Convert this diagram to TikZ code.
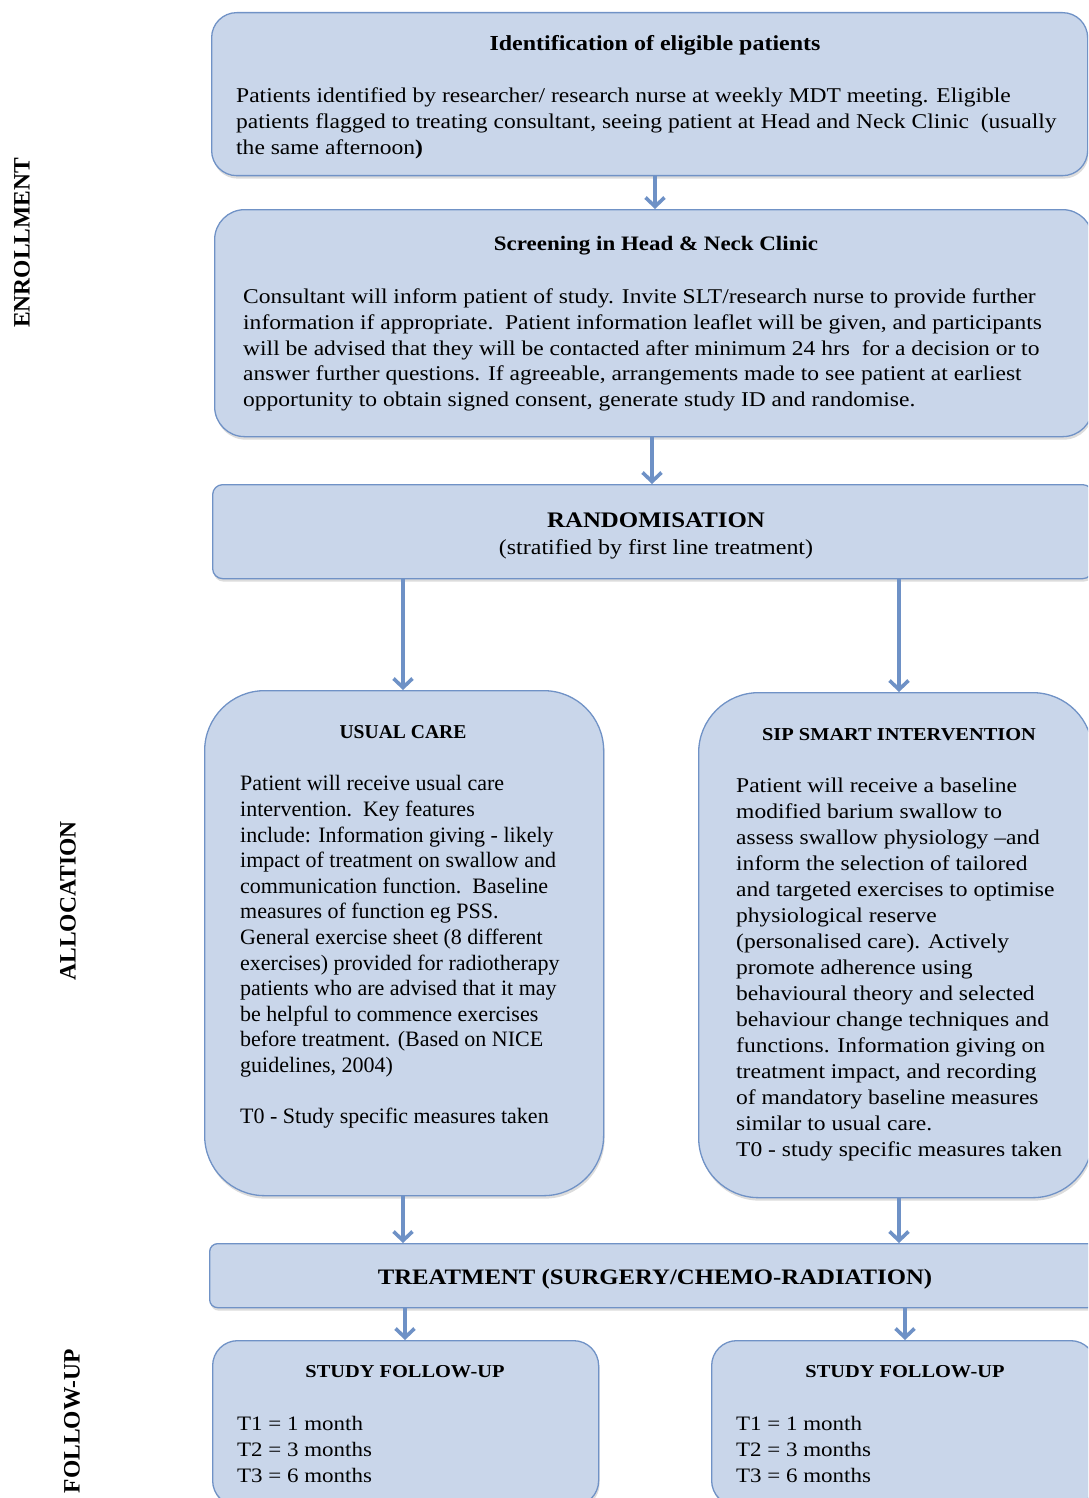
\documentclass[tikz,border=0pt]{standalone}
\usepackage{fontspec}
\setmainfont{Liberation Serif}
\newfontfamily\cam[FakeStretch=1.12]{Liberation Serif}
\usetikzlibrary{arrows.meta,shadows}
\definecolor{boxfill}{RGB}{201,214,234}
\definecolor{boxline}{RGB}{112,146,198}
\definecolor{arrowc}{RGB}{110,145,198}
\newcommand{\fs}[2]{\fontsize{#1}{#2}\selectfont}
\begin{document}
\begin{tikzpicture}[x=1pt,y=-1pt,
  box/.style={draw=boxline, line width=1.3pt, fill=boxfill, inner sep=0pt,
    anchor=north west,
    drop shadow={opacity=0.28, shadow xshift=1pt, shadow yshift=-3pt}},
  flow/.style={draw=arrowc, line width=3.6pt,
    -{Straight Barb[length=9pt,width=19pt,line width=3.6pt]}},
  hd/.style={inner sep=0pt},
  body/.style={inner sep=0pt, anchor=north west, align=left},
  side/.style={inner sep=0pt, rotate=90, font=\bfseries\fs{23.5}{26}}
]
\useasboundingbox (0,0) rectangle (1088,1498);
\clip (0,0) rectangle (1088,1498);

% boxes
\node[box, rounded corners=25pt, minimum width=876pt, minimum height=163pt] (b1) at (211,12) {};
\node[box, rounded corners=30pt, minimum width=878pt, minimum height=227pt] (b2) at (214,209) {};
\node[box, rounded corners=10pt, minimum width=880pt, minimum height=94pt] (b3) at (212,484) {};
\node[box, rounded corners=60pt, minimum width=399pt, minimum height=505pt] (b4) at (204,690) {};
\node[box, rounded corners=60pt, minimum width=394pt, minimum height=505pt] (b5) at (698,692) {};
\node[box, rounded corners=8pt, minimum width=886pt, minimum height=64pt] (b6) at (209,1243) {};
\node[box, rounded corners=25pt, minimum width=386pt, minimum height=165pt] (b7) at (212,1340) {};
\node[box, rounded corners=25pt, minimum width=384pt, minimum height=165pt] (b8) at (711,1340) {};

% texts
\node[hd, font=\cam\bfseries\fs{21.4}{24}] (h1) at (655,45) {Identification of eligible patients};
\node[body, font=\cam\fs{21}{26}] (t1) at (236,87.5) {Patients identified by researcher/ research nurse at weekly MDT meeting. Eligible\\
patients flagged to treating consultant, seeing patient at Head and Neck Clinic\ \ (usually\\
the same afternoon\textbf{)}};

\node[hd, font=\cam\bfseries\fs{20.5}{24}] (h2) at (656,245.5) {Screening in Head \& Neck Clinic};
\node[body, font=\cam\fs{21}{25.8}] (t2) at (243,288.5) {Consultant will inform patient of study. Invite SLT/research nurse to provide further\\
information if appropriate.\ \ Patient information leaflet will be given, and participants\\
will be advised that they will be contacted after minimum 24 hrs\ \ for a decision or to\\
answer further questions. If agreeable, arrangements made to see patient at earliest\\
opportunity to obtain signed consent, generate study ID and randomise.};

\node[hd, font=\cam\bfseries\fs{22.2}{26}] (h3) at (656,520) {RANDOMISATION};
\node[hd, font=\cam\fs{21.4}{24}] (t3) at (656,549.5) {(stratified by first line treatment)};

\node[hd, font=\bfseries\fs{19.6}{24}] (h4) at (403,732) {USUAL CARE};
\node[body, font=\fs{22}{25.6}] (t4) at (240,775.5) {Patient will receive usual care\\
intervention.\ \ Key features\\
include: Information giving - likely\\
impact of treatment on swallow and\\
communication function.\ \ Baseline\\
measures of function eg PSS.\\
General exercise sheet (8 different\\
exercises) provided for radiotherapy\\
patients who are advised that it may\\
be helpful to commence exercises\\
before treatment. (Based on NICE\\
guidelines, 2004)\\[25.6pt]
T0 - Study specific measures taken};

\node[hd, font=\cam\bfseries\fs{18.2}{24}] (h5) at (899,735) {SIP SMART INTERVENTION};
\node[body, font=\cam\fs{21}{26}] (t5) at (736,778) {Patient will receive a baseline\\
modified barium swallow to\\
assess swallow physiology –and\\
inform the selection of tailored\\
and targeted exercises to optimise\\
physiological reserve\\
(personalised care). Actively\\
promote adherence using\\
behavioural theory and selected\\
behaviour change techniques and\\
functions. Information giving on\\
treatment impact, and recording\\
of mandatory baseline measures\\
similar to usual care.\\
T0 - study specific measures taken};

\node[hd, font=\cam\bfseries\fs{22.1}{26}] (h6) at (655,1279.5) {TREATMENT (SURGERY/CHEMO-RADIATION)};

\node[hd, font=\cam\bfseries\fs{18.2}{24}] (h7) at (405,1372) {STUDY FOLLOW-UP};
\node[body, font=\cam\fs{20.5}{26}] (t7) at (237,1416) {T1 = 1 month\\T2 = 3 months\\T3 = 6 months};
\node[hd, font=\cam\bfseries\fs{18.2}{24}] (h8) at (905,1372) {STUDY FOLLOW-UP};
\node[body, font=\cam\fs{20.5}{26}] (t8) at (736,1416) {T1 = 1 month\\T2 = 3 months\\T3 = 6 months};

% side labels
\node[side] (s1) at (22,243) {ENROLLMENT};
\node[side] (s2) at (68,901) {ALLOCATION};
\node[side] (s3) at (72,1421) {FOLLOW-UP};

% arrow columns
\coordinate (xa) at (655,0);
\coordinate (xb) at (652,0);
\coordinate (xl) at (403,0);
\coordinate (xr) at (899,0);
\coordinate (xl2) at (405,0);
\coordinate (xr2) at (905,0);

\draw[flow] (b1.south -| xa) -- (b2.north -| xa);
\draw[flow] (b2.south -| xb) -- (b3.north -| xb);
\draw[flow] (b3.south -| xl) -- (b4.north -| xl);
\draw[flow] (b3.south -| xr) -- (b5.north -| xr);
\draw[flow] (b4.south -| xl) -- (b6.north -| xl);
\draw[flow] (b5.south -| xr) -- (b6.north -| xr);
\draw[flow] (b6.south -| xl2) -- (b7.north -| xl2);
\draw[flow] (b6.south -| xr2) -- (b8.north -| xr2);
\end{tikzpicture}
\end{document}
